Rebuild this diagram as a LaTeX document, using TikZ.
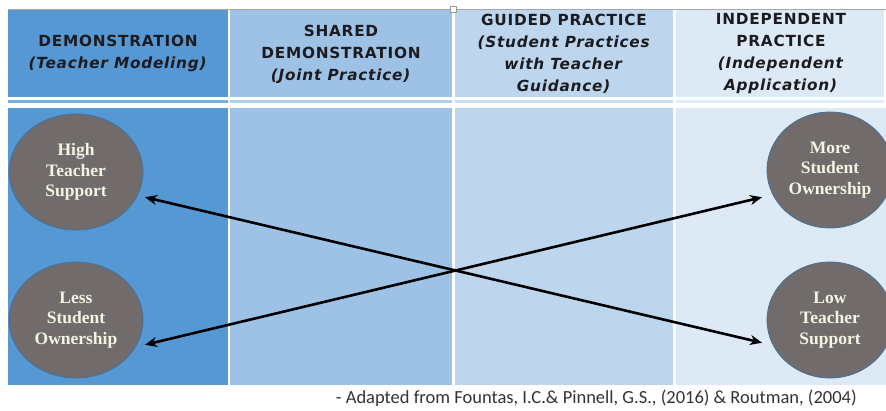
\documentclass[tikz,border=0pt]{standalone}
\usepackage{fontspec}
\setmainfont{Liberation Serif}
\newfontfamily\hdrfont[LetterSpace=5]{DejaVu Sans}
\newfontfamily\capfont{Carlito}
\usetikzlibrary{arrows.meta}
\definecolor{cA}{RGB}{86,152,212}
\definecolor{cB}{RGB}{157,194,230}
\definecolor{cC}{RGB}{189,214,238}
\definecolor{cD}{RGB}{221,234,246}
\definecolor{circfill}{RGB}{113,108,107}
\definecolor{circline}{RGB}{65,113,156}
\definecolor{circtext}{RGB}{245,243,228}
\definecolor{hdrtext}{RGB}{28,28,32}
\tikzset{
  hdr/.style={inner sep=0pt, align=center, text=hdrtext, font=\hdrfont\bfseries\fontsize{15.3}{22}\selectfont},
  bubble/.style={ellipse, draw=circline, line width=0.8pt, fill=circfill, minimum width=134pt, minimum height=116pt, inner sep=0pt, align=center, text=circtext, font=\bfseries\fontsize{17.5}{20.5}\selectfont},
  link/.style={line width=2.6pt, black, {Stealth[length=12pt,width=10pt]}-{Stealth[length=12pt,width=10pt]}, shorten <=1pt, shorten >=1pt}
}
\usetikzlibrary{shapes.geometric}
\begin{document}
\begin{tikzpicture}[x=1pt,y=-1pt]
\useasboundingbox (0,0) rectangle (886,410);
\clip (0,0) rectangle (886,410);
% top rule
\draw[gray!70, line width=1.2pt] (8,9.5) -- (886,9.5);
% header cells
\fill[cA] (8,10) rectangle (228,97);
\fill[cB] (230,10) rectangle (452,97);
\fill[cC] (455,10) rectangle (673,97);
\fill[cD] (676,10) rectangle (884,97);
% thin strip
\fill[cA!80] (8,100) rectangle (228,102.5);
\fill[cB!80] (230,100) rectangle (452,102.5);
\fill[cC!80] (455,100) rectangle (673,102.5);
\fill[cD!90] (676,100) rectangle (884,102.5);
% body cells
\fill[cA] (8,108) rectangle (228,385);
\fill[cB] (230,108) rectangle (452,385);
\fill[cC] (455,108) rectangle (673,385);
\fill[cD] (676,108) rectangle (886,385);
% handle
\draw[gray!80, fill=white, line width=0.8pt] (450,6) rectangle (456,12);
% header text
\node[hdr] (h1) at (118,53) {DEMONSTRATION\\\textit{(Teacher Modeling)}};
\node[hdr] (h2) at (341,54.5) {SHARED\\DEMONSTRATION\\\textit{(Joint Practice)}};
\node[hdr] (h3) at (564,54) {GUIDED PRACTICE\\\textit{(Student Practices}\\\textit{with Teacher}\\\textit{Guidance)}};
\node[hdr] (h4) at (781,54) {INDEPENDENT\\PRACTICE\\\textit{(Independent}\\\textit{Application)}};
% bubbles
\node[bubble] (hts) at (76,172) {High\\Teacher\\Support};
\node[bubble] (lso) at (76,320) {Less\\Student\\Ownership};
\node[bubble, minimum width=126pt] (mso) at (830,170) {More\\Student\\Ownership};
\node[bubble, minimum width=126pt] (lts) at (830,320) {Low\\Teacher\\Support};
% arrows
\coordinate (a1) at (144,197);
\coordinate (a2) at (763,343);
\coordinate (b1) at (144,345);
\coordinate (b2) at (763,197);
\draw[link] (a1) -- (a2);
\draw[link] (b1) -- (b2);
% caption
\node[font=\capfont\fontsize{18.5}{20}\selectfont, text=black!80, anchor=east, inner sep=0pt] (cap) at (857,398) {- Adapted from Fountas, I.C.\& Pinnell, G.S., (2016) \& Routman, (2004)};
\end{tikzpicture}
\end{document}
